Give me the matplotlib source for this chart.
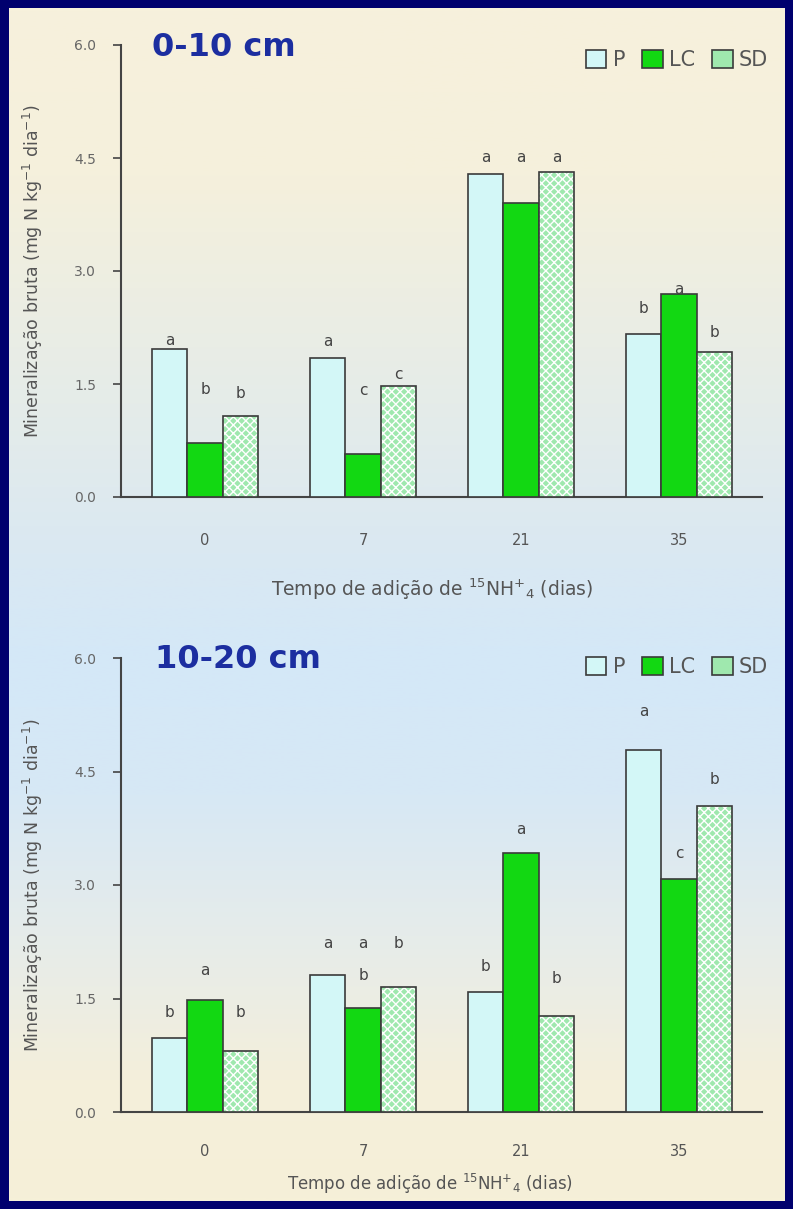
import matplotlib
matplotlib.use('Agg')
import matplotlib.pyplot as plt
import numpy as np
from matplotlib.patches import Patch
from matplotlib.colors import LinearSegmentedColormap

# ---------------- data ----------------
days = ['0', '7', '21', '35']
series = ['P', 'LC', 'SD']

top_P = [1.96, 1.84, 4.29, 2.16]
top_LC = [0.72, 0.57, 3.90, 2.70]
top_SD = [1.07, 1.48, 4.32, 1.93]

bot_P = [0.98, 1.81, 1.59, 4.79]
bot_LC = [1.48, 1.38, 3.42, 3.08]
bot_SD = [0.80, 1.65, 1.27, 4.04]

top_letters = [['a', 'b', 'b'], ['a', 'c', 'c'], ['a', 'a', 'a'], ['b', 'a', 'b']]
top_letter_y = [[2.08, 1.43, 1.37], [2.06, 1.41, 1.63], [4.51, 4.51, 4.51], [2.50, 2.76, 2.19]]
bot_letters = [['b', 'a', 'b'], ['a', 'a', 'b'], ['b', 'a', 'b'], ['a', 'c', 'b']]
bot_letter_y = [[1.32, 1.87, 1.31], [2.23, 2.23, 2.23], [1.92, 3.73, 1.76], [5.29, 3.42, 4.40]]
bot_extra = [(1, 1, 'b', 1.80)]

yticks = [0.0, 1.5, 3.0, 4.5, 6.0]
titles = ['0-10 cm', '10-20 cm']
ylabel = 'Mineralização bruta (mg N kg$^{-1}$ dia$^{-1}$)'
xlabel = 'Tempo de adição de $^{15}$NH$^{+}$$_{4}$ (dias)'

# ---------------- style ----------------
W, H = 793, 1209
C_P = '#d3f7f7'
C_LC = '#12d812'
C_SD = '#9fe8ae'
EDGE = '#3a3a3a'
GRAY = '#555555'
NAVY = '#00006e'
TITLE_C = '#1c2ea0'

fig = plt.figure(figsize=(W / 100, H / 100), dpi=100)
fig.patch.set_facecolor(NAVY)

# background gradient
bg = fig.add_axes([9 / W, 8 / H, (W - 17) / W, (H - 16) / H], zorder=-10)
stops = [(0.0, '#f7f1dc'), (0.14, '#f5f0dc'), (0.33, '#e5ece9'), (0.47, '#d9e8f3'),
         (0.55, '#d4e8f8'), (0.66, '#d7e8f5'), (0.78, '#e6ecea'), (0.9, '#f4efdb'),
         (1.0, '#f6f0d8')]
cmap = LinearSegmentedColormap.from_list('bg', stops)
grad = np.linspace(0, 1, 512).reshape(-1, 1)
bg.imshow(grad, aspect='auto', cmap=cmap, extent=[0, 1, 0, 1], origin='upper')
bg.set_axis_off()


def panel(rect, P, LC, SD, letters, letter_y, extra, title, title_xy, legend_y,
          xlab_coords, xtick_pad, xlab_size):
    ax = fig.add_axes(rect)
    ax.set_facecolor('none')
    x = np.arange(len(days))
    w = 0.224
    ax.bar(x - w, P, w, color=C_P, edgecolor=EDGE, linewidth=1.2, zorder=3)
    ax.bar(x, LC, w, color=C_LC, edgecolor=EDGE, linewidth=1.2, zorder=3)
    ax.bar(x + w, SD, w, color=C_SD, edgecolor='white', hatch='xxxx', linewidth=0, zorder=3)
    ax.bar(x + w, SD, w, color='none', edgecolor=EDGE, linewidth=1.2, zorder=4)

    offs = [-w, 0, w]
    for g in range(len(days)):
        for s in range(3):
            ax.text(x[g] + offs[s], letter_y[g][s], letters[g][s], ha='center', va='center',
                    fontsize=11, color='#444444', zorder=6)
    for g, s, t, yy in extra:
        ax.text(x[g] + offs[s], yy, t, ha='center', va='center',
                fontsize=11, color='#444444', zorder=6)

    ax.set_xlim(-0.532, 3.525)
    ax.set_ylim(0, 6.0)
    ax.set_yticks(yticks)
    ax.set_yticklabels(['%.1f' % v for v in yticks])
    ax.set_xticks(x)
    ax.set_xticklabels(days)
    for sp in ['top', 'right']:
        ax.spines[sp].set_visible(False)
    for sp in ['left', 'bottom']:
        ax.spines[sp].set_color('#444444')
        ax.spines[sp].set_linewidth(1.5)
    ax.tick_params(axis='y', direction='out', length=6, width=1.2, color='#444444',
                   pad=12, labelsize=10, labelcolor='#666666')
    ax.tick_params(axis='x', length=0, pad=xtick_pad, labelsize=10.5, labelcolor=GRAY)

    ax.set_ylabel(ylabel, fontsize=12.5, color=GRAY)
    ax.yaxis.set_label_coords((45 - 121) / 641, 0.5)
    ax.set_xlabel(xlabel, fontsize=xlab_size, color=GRAY)
    ax.xaxis.set_label_coords(*xlab_coords)

    fig.text(title_xy[0] / W, 1 - title_xy[1] / H, title, ha='left', va='center',
             fontsize=23, fontweight='bold', color=TITLE_C)

    handles = [Patch(facecolor=C_P, edgecolor=EDGE, linewidth=1.2),
               Patch(facecolor=C_LC, edgecolor=EDGE, linewidth=1.2),
               Patch(facecolor=C_SD, edgecolor=EDGE, linewidth=1.2)]
    leg = ax.legend(handles, series, loc='center right',
                    bbox_to_anchor=(768 / W, 1 - legend_y / H), bbox_transform=fig.transFigure,
                    ncol=3, frameon=False, fontsize=15, handlelength=1.0, handleheight=1.0,
                    handletextpad=0.3, columnspacing=0.8, borderpad=0, borderaxespad=0)
    for t in leg.get_texts():
        t.set_color(GRAY)
    return ax


panel([121 / W, 1 - 497 / H, 641 / W, 452 / H], top_P, top_LC, top_SD,
      top_letters, top_letter_y, [], titles[0], (152, 48), 60,
      ((432 - 121) / 641, (497 - 577) / 452), 26, 13.5)
panel([121 / W, 1 - 1112 / H, 641 / W, 454 / H], bot_P, bot_LC, bot_SD,
      bot_letters, bot_letter_y, bot_extra, titles[1], (155, 660), 667,
      ((430 - 121) / 641, (1112 - 1172) / 454), 23, 12)

fig.savefig('out.png', dpi=100, facecolor=fig.get_facecolor())
